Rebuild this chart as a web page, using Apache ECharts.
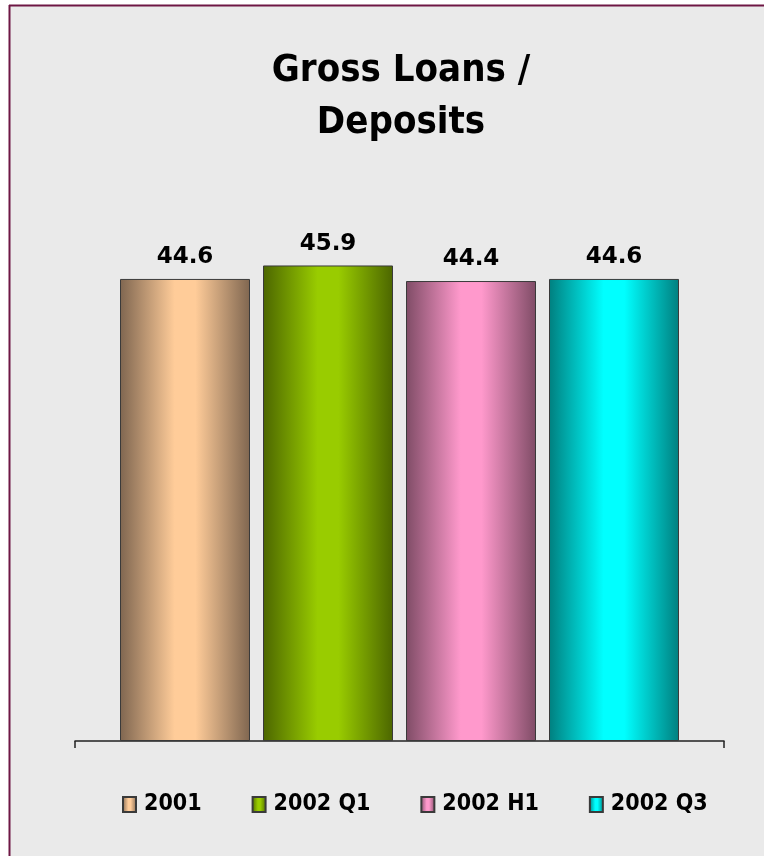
<!DOCTYPE html>
<html>
<head>
<meta charset="utf-8">
<script src="https://cdn.jsdelivr.net/npm/echarts@6/dist/echarts.min.js"></script>
<style>
  html, body { margin: 0; padding: 0; background: #ffffff; }
  #chart { width: 764px; height: 856px; }
</style>
</head>
<body>
<div id="chart"></div>
<script>
// Gross loans as a percentage of deposits, by period
const periods = ['2001', '2002 Q1', '2002 H1', '2002 Q3'];
const ratios = [44.6, 45.9, 44.4, 44.6];
// light (highlight) and dark (edge) tone for each period's bar
const lightTones = ['#FFCC99', '#99CC00', '#FF99CC', '#00FFFF'];
const darkTones = ['#7F6650', '#4C6600', '#7F4C66', '#007F7F'];

function cylinderFill(light, dark) {
  return new echarts.graphic.LinearGradient(0, 0, 1, 0, [
    { offset: 0, color: dark },
    { offset: 0.42, color: light },
    { offset: 0.58, color: light },
    { offset: 1, color: dark }
  ]);
}

const chart = echarts.init(document.getElementById('chart'), null, { renderer: 'canvas' });

const series = periods.map((name, i) => ({
  name: name,
  type: 'bar',
  data: [ratios[i]],
  barWidth: 130,
  barGap: '10%',
  itemStyle: {
    color: cylinderFill(lightTones[i], darkTones[i]),
    borderColor: '#3a3a3a',
    borderWidth: 1
  },
  label: {
    show: true,
    position: 'top',
    distance: 10,
    formatter: p => p.value.toFixed(1),
    color: '#000',
    fontFamily: 'DejaVu Sans',
    fontWeight: 'bold',
    fontSize: 23
  }
}));

chart.setOption({
  backgroundColor: '#ffffff',
  animation: false,
  graphic: [
    { type: 'rect', shape: { x: 9, y: 5, width: 760, height: 860 }, style: { fill: '#EAEAEA' }, z: -10 },
    { type: 'line', shape: { x1: 9.5, y1: 5, x2: 9.5, y2: 856 }, style: { stroke: '#6E1744', lineWidth: 2 }, z: 10 },
    { type: 'line', shape: { x1: 9, y1: 5.5, x2: 764, y2: 5.5 }, style: { stroke: '#6E1744', lineWidth: 2 }, z: 10 }
  ],
  title: {
    text: 'Gross Loans /\nDeposits',
    left: 396,
    textAlign: 'center',
    top: 40,
    textStyle: {
      fontFamily: 'DejaVu Sans Condensed, DejaVu Sans',
      fontWeight: 'bold',
      fontSize: 38,
      lineHeight: 52,
      color: '#000'
    }
  },
  legend: {
    top: 788,
    left: 117,
    icon: 'rect',
    itemWidth: 13,
    itemHeight: 15,
    itemGap: 50,
    textStyle: {
      fontFamily: 'DejaVu Sans Condensed, DejaVu Sans',
      fontWeight: 'bold',
      fontSize: 23,
      padding: [0, 0, 0, 3],
      color: '#000'
    },
    data: periods
  },
  grid: { left: 75, right: 40, top: 223, bottom: 115 },
  xAxis: {
    type: 'category',
    data: [''],
    axisLine: { lineStyle: { color: '#222', width: 1.5 } },
    axisTick: { show: true, length: 7, lineStyle: { color: '#222', width: 1.5 } },
    axisLabel: { show: false }
  },
  yAxis: {
    type: 'value',
    min: 0,
    max: 50,
    show: false,
    splitLine: { show: false }
  },
  series: series
});
</script>
</body>
</html>
